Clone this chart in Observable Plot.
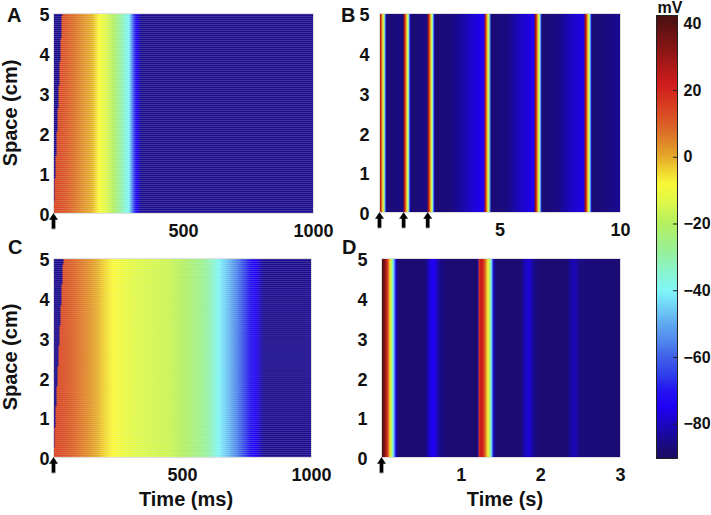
<!DOCTYPE html>
<html><head><meta charset="utf-8">
<script src="https://cdn.jsdelivr.net/npm/d3@7"></script>
<script src="https://cdn.jsdelivr.net/npm/@observablehq/plot@0.6"></script>
<style>
body{margin:0;background:#fff;}
#fig{position:relative;width:711px;height:515px;overflow:hidden;}
#fig > svg, #fig > figure{position:absolute;margin:0;}
</style></head><body><div id="fig"></div>
<script>
// ---------- data ----------
// Space axis and conduction front (time at which the wave reaches each end, ms)
const spaceTicks = [0, 1, 2, 3, 4, 5];
const frontSpace = [0, 5];
const aFrontTime = [0, 33];
const cFrontTime = [0, 38];

// Panel A: membrane potential (mV) vs time (ms)
const aTime = [0, 40, 100, 150, 175, 210, 245, 275, 290, 300, 310, 320, 338, 1000];
const aVolt = [15, 12, 5, -1, -8, -15, -25, -35, -40, -52, -65, -75, -85, -85];
const aStim = [0];
const aTicks = [500, 1000];

// Panel C: membrane potential (mV) vs time (ms)
const cTime = [0, 50, 100, 150, 190, 230, 310, 440, 500, 580, 615, 640, 680, 720, 760, 790, 815, 1000];
const cVolt = [15, 12, 7, 2, -3, -8, -13, -16, -20, -27, -33, -40, -48, -58, -70, -77, -85, -85];
const cStim = [0];
const cTicks = [500, 1000];

// Panel B: beat onsets (s), action-potential shape, diastolic potential
const bBeat = [0, 1.0, 2.0, 4.35, 6.45, 8.52];
const bApTime = [0, 0.03, 0.07, 0.11, 0.15, 0.19, 0.22, 0.25, 0.28];
const bApVolt = [35, 28, 15, 0, -10, -25, -42, -65, -88];
const bRestTime = [0, 0.3, 0.95, 1.3, 1.95, 2.3, 2.9, 3.5, 4.0, 4.35, 4.65, 5.3, 5.9, 6.45, 6.75, 7.4, 8.0, 8.52, 8.8, 9.5, 10];
const bRestVolt = [-88, -88, -86, -88, -86, -88, -87, -82, -77, -75, -88, -86, -79, -75, -88, -86, -79, -76, -88, -86, -84];
const bStim = [0, 1, 2];
const bTicks = [5, 10];

// Panel D: membrane potential (mV) vs time (s)
const dTime = [0, 0.03, 0.06, 0.085, 0.1, 0.115, 0.13, 0.145, 0.16, 0.175, 0.19, 0.22, 0.55, 0.6, 0.66, 0.72, 0.8, 1.15, 1.21, 1.225, 1.27, 1.3, 1.325, 1.345, 1.365, 1.38, 1.395, 1.41, 1.44, 1.75, 1.8, 1.86, 1.92, 2.0, 2.33, 2.38, 2.43, 2.5, 3.0];
const dVolt = [42, 38, 25, 10, -2, -10, -25, -40, -52, -68, -85, -88, -88, -78, -74, -84, -88, -88, -90, 24, 22, 8, -3, -12, -28, -42, -62, -82, -88, -88, -80, -78, -86, -88, -88, -82, -81, -87, -88];
const dStim = [0];
const dTicks = [1, 2, 3];

// Colour bar
const cbDomain = [-90.3, 42.5];
const cbTicks = [40, 20, 0, -20, -40, -60, -80];

// ---------- colour map (jet as rendered in the reference) ----------
const cmapV = [-90.3, -85, -80, -75, -70, -65, -60, -55, -50, -45, -40, -35, -28, -20, -13, -8, -4, 0, 4, 9, 15, 22, 28, 35, 42.5];
const cmapC = ["#1c0c60","#1a0a8c","#1c06c0","#2000f5","#2414f0","#3040ea","#4060e8","#5088ee","#60a8f0","#70d0f6","#80f6f8","#88f4d4","#98f098","#b4f060","#e0f848","#f8f838","#f0d430","#e4aa2a","#e08a28","#dc6428","#d84020","#d01c1c","#a81818","#781414","#4a1010"];
const colorScale = {type: "linear", domain: cmapV, range: cmapC, interpolate: "rgb"};

const FONT = "'Liberation Sans', Arial, Helvetica, sans-serif";
const upArrow = {draw(ctx, l) {
  ctx.moveTo(-1.6, 0); ctx.lineTo(-1.6, -l + 6); ctx.lineTo(-4, -l + 6);
  ctx.lineTo(0, -l); ctx.lineTo(4, -l + 6); ctx.lineTo(1.6, -l + 6);
  ctx.lineTo(1.6, 0); ctx.closePath();
}};

function panel({domain, fill, stims, ticks, w, h, ml, mr, mt, mb, tickPad, texture}) {
  return Plot.plot({
    width: w, height: h, marginLeft: ml, marginRight: mr, marginTop: mt, marginBottom: mb,
    x: {domain}, y: {domain: [0, 5]},
    color: colorScale,
    style: {fontFamily: FONT, fontSize: "18px", fontWeight: "bold", color: "#111", background: "transparent", overflow: "visible"},
    marks: [
      Plot.raster({x1: domain[0], x2: domain[1], y1: 0, y2: 5, fill}),
      texture ? Plot.ruleY(d3.range(0.025, 5, 0.05), {stroke: "white", strokeOpacity: 0.17}) : null,
      Plot.frame({stroke: "#dedede"}),
      Plot.axisX({ticks, tickSize: 0, tickPadding: 11, tickFormat: d3.format("d"), label: null}),
      Plot.axisY({ticks: spaceTicks, tickSize: 0, tickPadding: tickPad, dy: 2, tickFormat: d3.format("d"), label: null}),
      Plot.vector(stims, {x: d => d, y: () => 0, length: 15, rotate: 0, anchor: "start", dy: 15, shape: upArrow, fill: "#000", stroke: "#000", strokeWidth: 0.5})
    ]
  });
}

const aProfile = d3.scaleLinear(aTime, aVolt).clamp(true);
const aFront = d3.scaleLinear(frontSpace, aFrontTime);
const cProfile = d3.scaleLinear(cTime, cVolt).clamp(true);
const cFront = d3.scaleLinear(frontSpace, cFrontTime);
const bAp = d3.scaleLinear(bApTime, bApVolt).clamp(true);
const bRest = d3.scaleLinear(bRestTime, bRestVolt).clamp(true);
const bDur = bApTime[bApTime.length - 1];
const dProfile = d3.scaleLinear(dTime, dVolt).clamp(true);

const fig = document.getElementById("fig");
function place(node, left, top) { node.style.left = left + "px"; node.style.top = top + "px"; fig.appendChild(node); }

place(panel({domain: [0, 1000], fill: (t, s) => t < aFront(s) ? aVolt[aVolt.length - 1] : aProfile(t),
  stims: aStim, ticks: aTicks, w: 345, h: 245, ml: 53, mr: 32, mt: 13, mb: 32, tickPad: 4, texture: true}), 0, 0);

place(panel({domain: [0, 10], fill: (t) => { for (const b of bBeat) if (t >= b && t < b + bDur) return bAp(t - b); return bRest(t); },
  stims: bStim, ticks: bTicks, w: 295, h: 245, ml: 34, mr: 20, mt: 13, mb: 33, tickPad: 10, texture: false}), 345, 0);

place(panel({domain: [0, 1000], fill: (t, s) => t < cFront(s) ? cVolt[cVolt.length - 1] : cProfile(t),
  stims: cStim, ticks: cTicks, w: 345, h: 270, ml: 53, mr: 34, mt: 13, mb: 58, tickPad: 4, texture: true}), 0, 245);

place(panel({domain: [0, 3], fill: (t) => dProfile(t),
  stims: dStim, ticks: dTicks, w: 295, h: 270, ml: 36, mr: 20, mt: 13, mb: 58, tickPad: 14, texture: false}), 345, 245);

// colour bar
place(Plot.plot({
  width: 71, height: 515, marginLeft: 16, marginRight: 34, marginTop: 15, marginBottom: 57,
  x: {domain: [0, 1], axis: null}, y: {domain: cbDomain},
  color: colorScale,
  style: {fontFamily: FONT, fontSize: "16px", fontWeight: "bold", color: "#111", background: "transparent", overflow: "visible"},
  marks: [
    Plot.raster({x1: 0, x2: 1, y1: cbDomain[0], y2: cbDomain[1], fill: (x, y) => y}),
    Plot.tickY(cbTicks, {insetLeft: 17, stroke: "#222"}),
    Plot.frame({stroke: "#222"}),
    Plot.axisY({anchor: "right", ticks: cbTicks, tickSize: 0, tickPadding: 6, label: null})
  ]
}), 640, 0);

// overlay labels
const ov = d3.select(fig).append("svg").attr("width", 711).attr("height", 515)
  .style("left", "0px").style("top", "0px").style("pointer-events", "none")
  .style("font-family", FONT).style("font-weight", "bold").attr("fill", "#111");
const labels = [
  {t: "A", x: 7, y: 22, s: 20}, {t: "B", x: 341, y: 22, s: 20},
  {t: "C", x: 8, y: 254, s: 20}, {t: "D", x: 342, y: 254, s: 20},
  {t: "Time (ms)", x: 186, y: 506, s: 20, a: "middle"},
  {t: "Time (s)", x: 505, y: 506, s: 20, a: "middle"},
  {t: "mV", x: 670, y: 13, s: 16, a: "middle"}
];
for (const L of labels) ov.append("text").attr("x", L.x).attr("y", L.y).attr("font-size", L.s)
  .attr("text-anchor", L.a || "start").text(L.t);
for (const cy of [113, 357]) ov.append("text").attr("transform", `translate(16.5,${cy}) rotate(-90)`)
  .attr("font-size", 20).attr("text-anchor", "middle").text("Space (cm)");
</script></body></html>
